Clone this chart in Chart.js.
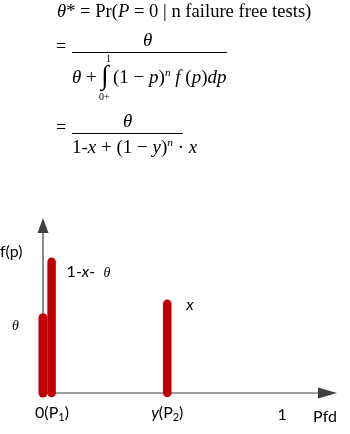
<!DOCTYPE html>
<html>
<head>
<meta charset="utf-8">
<script src="https://cdn.jsdelivr.net/npm/chart.js@4/dist/chart.umd.min.js"></script>
<style>
  html, body { margin:0; padding:0; background:#fff; }
  #wrap { position:relative; width:350px; height:434px; overflow:hidden; }
  canvas { position:absolute; left:0; top:0; }
  .m { position:absolute; font-family:'Liberation Serif','Times New Roman',serif; color:#000; white-space:nowrap; line-height:1; }
  .bar { position:absolute; height:1px; background:#000; }
  sup { font-size:60%; vertical-align:0; position:relative; top:-0.6em; }
</style>
</head>
<body>
<div id="wrap">
  <canvas id="c" width="350" height="434"></canvas>
  <div class="m" style="left:57px; top:2px; font-size:18.6px;"><i>θ</i>* = Pr(<i>P</i> = 0 | n failure free tests)</div>

  <div class="m" style="left:56px; top:37px; font-size:18px;">=</div>
  <div class="m" style="left:143px; top:30px; font-size:19px;"><i>θ</i></div>
  <div class="bar" style="left:72px; top:52px; width:155px;"></div>
  <div class="m" style="left:72px; top:67px; font-size:19px;"><i>θ</i> +</div>
  <div class="m" style="left:101px; top:62px; font-size:27px;">∫</div>
  <div class="m" style="left:106px; top:54px; font-size:10px;">1</div>
  <div class="m" style="left:99px; top:92px; font-size:10px;">0+</div>
  <div class="m" style="left:113px; top:67px; font-size:19px;">(1 − <i>p</i>)<sup><i>n</i></sup> <i>f</i> (<i>p</i>)<i>dp</i></div>

  <div class="m" style="left:56px; top:118px; font-size:18px;">=</div>
  <div class="m" style="left:123px; top:111px; font-size:19px;"><i>θ</i></div>
  <div class="bar" style="left:72px; top:133px; width:111px;"></div>
  <div class="m" style="left:72px; top:137px; font-size:19px;">1-<i>x</i> + (1 − <i>y</i>)<sup><i>n</i></sup> · <i>x</i></div>
</div>
<script>
// Data
const barPositions = [0, 0.036, 0.52];      // Pfd positions of the spikes
const barHeights   = [0.43, 0.75, 0.51];    // f(p) masses (relative)
const barNames     = ['θ', '1-x-θ', 'x'];
const tickValues   = [0, 0.52, 1];
const tickLabels   = [['0(P','1',')'], ['y','(P','2',')'], ['1']];
const xAxisTitle   = 'Pfd';
const yAxisTitle   = 'f(p)';

const RED = '#c00000';
const AX = '#404040';
const SANS = "Lato, 'Open Sans', 'Liberation Sans', sans-serif";
const SERIF = "'Liberation Serif', 'Times New Roman', serif";

const datasets = barPositions.map((p, i) => ({
  label: barNames[i],
  data: [{x: p, y: 0}, {x: p, y: barHeights[i]}],
  borderColor: RED,
  borderWidth: i === 0 ? 9 : 8.5,
  borderCapStyle: 'round',
  pointRadius: 0,
  fill: false,
  clip: false
}));

const axesPlugin = {
  id: 'axesPlugin',
  beforeDatasetsDraw(chart) {
    const {ctx, chartArea: a, scales: {x, y}} = chart;
    const x0 = x.getPixelForValue(0), y0 = y.getPixelForValue(0);
    ctx.save();
    ctx.strokeStyle = AX; ctx.fillStyle = AX; ctx.lineWidth = 1.2;
    ctx.beginPath(); ctx.moveTo(x0, y0); ctx.lineTo(x0, a.top + 12); ctx.stroke();
    ctx.beginPath(); ctx.moveTo(x0, a.top); ctx.lineTo(x0 - 5.5, a.top + 15); ctx.lineTo(x0 + 5.5, a.top + 15); ctx.closePath(); ctx.fill();
    ctx.beginPath(); ctx.moveTo(x0, y0); ctx.lineTo(a.right - 14, y0); ctx.stroke();
    ctx.beginPath(); ctx.moveTo(a.right, y0); ctx.lineTo(a.right - 19, y0 - 5.5); ctx.lineTo(a.right - 19, y0 + 5.5); ctx.closePath(); ctx.fill();
    ctx.restore();
  },
  afterDraw(chart) {
    const {ctx, chartArea: a, scales: {x, y}} = chart;
    const y0 = y.getPixelForValue(0);
    ctx.save();
    ctx.fillStyle = '#000';
    ctx.textBaseline = 'alphabetic';
    function runs(list, startX, baseY, align) {
      let w = 0;
      list.forEach(r => { ctx.font = r.f; w += ctx.measureText(r.t).width; });
      let cx = align === 'center' ? startX - w / 2 : startX;
      list.forEach(r => {
        ctx.font = r.f;
        ctx.fillText(r.t, cx, baseY + (r.dy || 0));
        cx += ctx.measureText(r.t).width;
      });
    }
    const N = '16px ' + SANS, S = '11px ' + SANS, I = 'italic 16px ' + SANS;
    const base = y0 + 25;
    runs([{t:tickLabels[0][0], f:N}, {t:tickLabels[0][1], f:S, dy:3}, {t:tickLabels[0][2], f:N}], x.getPixelForValue(tickValues[0]) + 9, base, 'center');
    runs([{t:tickLabels[1][0], f:I}, {t:tickLabels[1][1], f:N}, {t:tickLabels[1][2], f:S, dy:3}, {t:tickLabels[1][3], f:N}], x.getPixelForValue(tickValues[1]), base, 'center');
    runs([{t:tickLabels[2][0], f:N}], x.getPixelForValue(tickValues[2]), base + 2, 'center');
    runs([{t:xAxisTitle, f:N}], a.right - 12, base + 4, 'center');
    runs([{t:yAxisTitle, f:N}], 0, 257, 'left');
    const th = 'italic 14px ' + SERIF;
    runs([{t:'θ', f:th}], 12, y.getPixelForValue(barHeights[0]) + 12, 'left');
    runs([{t:'1-', f:N}, {t:'x', f:I}, {t:'-  ', f:N}, {t:'θ', f:th}], x.getPixelForValue(barPositions[1]) + 15, y.getPixelForValue(barHeights[1]) + 15, 'left');
    runs([{t:'x', f:I}], x.getPixelForValue(barPositions[2]) + 19, y.getPixelForValue(barHeights[2]) + 6, 'left');
    ctx.restore();
  }
};

new Chart(document.getElementById('c'), {
  type: 'line',
  data: { datasets },
  options: {
    responsive: false,
    animation: false,
    devicePixelRatio: 1,
    layout: { padding: { left: 43, right: 13, top: 218, bottom: 41 } },
    plugins: { legend: { display: false }, tooltip: { enabled: false } },
    scales: {
      x: { type: 'linear', min: 0, max: 1.23, display: false },
      y: { type: 'linear', min: 0, max: 1, display: false }
    }
  },
  plugins: [axesPlugin]
});
</script>
</body>
</html>
